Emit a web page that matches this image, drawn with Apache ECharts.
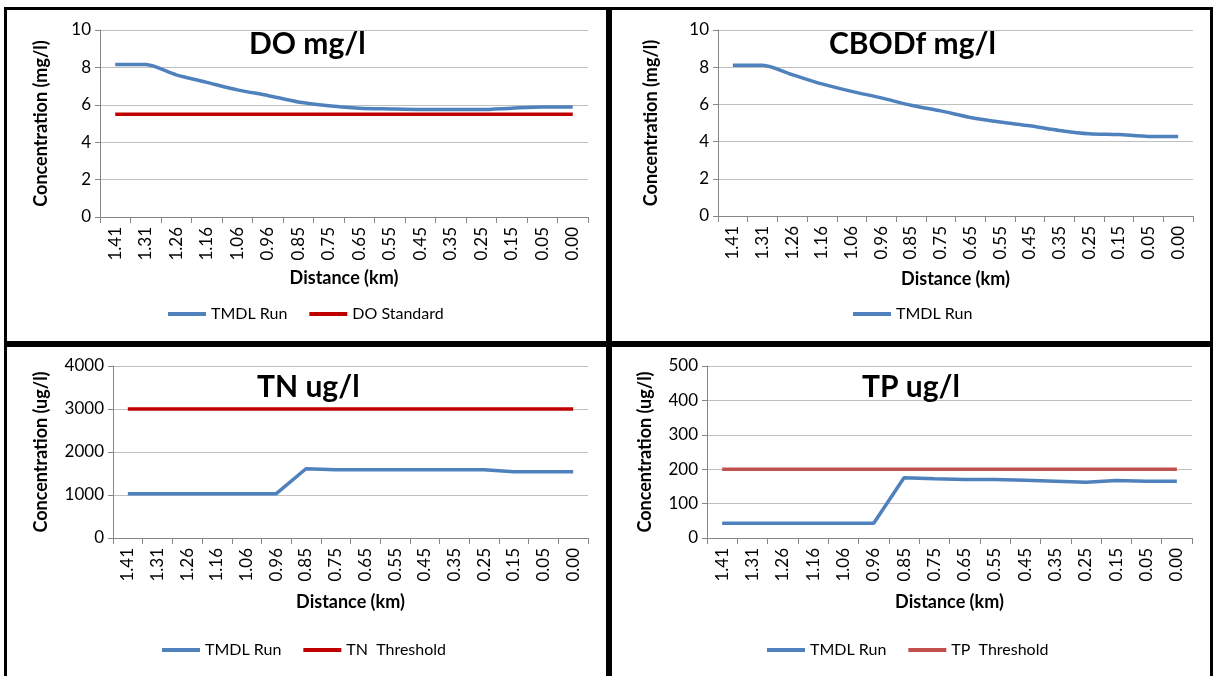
<!DOCTYPE html>
<html>
<head>
<meta charset="utf-8">
<script src="https://cdn.jsdelivr.net/npm/echarts@6/dist/echarts.min.js"></script>
<style>
  html, body { margin: 0; padding: 0; background: #fff; }
  #chart { width: 1215px; height: 676px; }
</style>
</head>
<body>
<div id="chart"></div>
<script>
// distance along the reach (km), upstream to downstream
const distance = ["1.41", "1.31", "1.26", "1.16", "1.06", "0.96", "0.85", "0.75",
  "0.65", "0.55", "0.45", "0.35", "0.25", "0.15", "0.05", "0.00"]

const doRun = [8.15, 8.15, 7.6, 7.2, 6.8, 6.5, 6.15, 5.95, 5.82, 5.78, 5.75, 5.75, 5.75, 5.82, 5.88, 5.88]
const doStandard = [5.5, 5.5, 5.5, 5.5, 5.5, 5.5, 5.5, 5.5, 5.5, 5.5, 5.5, 5.5, 5.5, 5.5, 5.5, 5.5]

const cbodRun = [8.1, 8.1, 7.6, 7.1, 6.7, 6.35, 5.95, 5.65, 5.3, 5.05, 4.85, 4.6, 4.42, 4.38, 4.28, 4.28]

const tnRun = [1030, 1030, 1030, 1030, 1030, 1030, 1610, 1590, 1590, 1590, 1590, 1590, 1590, 1540, 1540, 1540]
const tnThreshold = [3000, 3000, 3000, 3000, 3000, 3000, 3000, 3000, 3000, 3000, 3000, 3000, 3000, 3000, 3000, 3000]

const tpRun = [43, 43, 43, 43, 43, 43, 175, 172, 170, 170, 168, 165, 162, 167, 165, 165]
const tpThreshold = [200, 200, 200, 200, 200, 200, 200, 200, 200, 200, 200, 200, 200, 200, 200, 200]

const FONT = "Lato"
const BLUE = "#4f81bd"

// one panel per quadrant
const panels = [
  { title: "DO mg/l", titleX: 249, titleY: 29, yName: "Concentration (mg/l)", max: 10, interval: 2,
    grid: { left: 100, top: 30, width: 488, height: 187 }, yGap: 50, xGap: 52,
    legend: { left: 168, top: 306 },
    series: [
      { name: "TMDL Run", data: doRun, color: BLUE, smooth: true },
      { name: "DO Standard", data: doStandard, color: "#c00000" },
    ] },
  { title: "CBODf mg/l", titleX: 829, titleY: 29, yName: "Concentration (mg/l)", max: 10, interval: 2,
    grid: { left: 718, top: 30, width: 475, height: 186 }, yGap: 58, xGap: 54,
    legend: { left: 853, top: 306 },
    series: [
      { name: "TMDL Run", data: cbodRun, color: BLUE, smooth: true },
    ] },
  { title: "TN ug/l", titleX: 257, titleY: 372, yName: "Concentration (ug/l)", max: 4000, interval: 1000,
    grid: { left: 113, top: 366, width: 475, height: 172 }, yGap: 63, xGap: 55,
    legend: { left: 162, top: 642 },
    series: [
      { name: "TMDL Run", data: tnRun, color: BLUE },
      { name: "TN  Threshold", data: tnThreshold, color: "#c00000" },
    ] },
  { title: "TP ug/l", titleX: 862, titleY: 372, yName: "Concentration (ug/l)", max: 500, interval: 100,
    grid: { left: 707, top: 366, width: 485, height: 172 }, yGap: 53, xGap: 55,
    legend: { left: 767, top: 642 },
    series: [
      { name: "TMDL Run", data: tpRun, color: BLUE },
      { name: "TP  Threshold", data: tpThreshold, color: "#c0504d" },
    ] },
]

const option = {
  animation: false,
  textStyle: { fontFamily: FONT },
  title: [],
  legend: [],
  grid: [],
  xAxis: [],
  yAxis: [],
  series: [],
  graphic: [],
}

panels.forEach((p, i) => {
  option.grid.push(p.grid)
  option.title.push({
    text: p.title, left: p.titleX, top: p.titleY, padding: 0,
    textStyle: { fontFamily: FONT, fontSize: 30, fontWeight: "bold", color: "#000" },
  })
  option.legend.push({
    left: p.legend.left, top: p.legend.top, padding: 0,
    icon: "rect", itemWidth: 38, itemHeight: 4, itemGap: 22,
    data: p.series.map((s) => s.name),
    textStyle: { fontFamily: FONT, fontSize: 16, color: "#000" },
  })
  option.xAxis.push({
    type: "category", gridIndex: i, data: distance, boundaryGap: true,
    name: "Distance (km)", nameLocation: "middle", nameGap: p.xGap,
    nameTextStyle: { fontFamily: FONT, fontSize: 18, fontWeight: "bold", color: "#000" },
    axisLine: { lineStyle: { color: "#868686", width: 1 } },
    axisTick: { show: true, length: 6, lineStyle: { color: "#868686" } },
    axisLabel: { rotate: 90, margin: 10, fontSize: 17, color: "#000", fontFamily: FONT },
    splitLine: { show: false },
  })
  option.yAxis.push({
    type: "value", gridIndex: i, min: 0, max: p.max, interval: p.interval,
    name: p.yName, nameLocation: "middle", nameGap: p.yGap,
    nameTextStyle: { fontFamily: FONT, fontSize: 18, fontWeight: "bold", color: "#000" },
    axisLine: { show: true, lineStyle: { color: "#868686", width: 1 } },
    axisTick: { show: true, length: 5, lineStyle: { color: "#868686" } },
    axisLabel: { margin: 9, fontSize: 17, color: "#000", fontFamily: FONT, formatter: (v) => String(v) },
    splitLine: { show: true, lineStyle: { color: "#bfbfbf", width: 1 } },
  })
  p.series.forEach((s) => {
    option.series.push({
      type: "line", name: s.name, xAxisIndex: i, yAxisIndex: i,
      data: s.data, smooth: s.smooth ? 0.25 : false, symbol: "none",
      color: s.color,
      itemStyle: { color: s.color },
      lineStyle: { color: s.color, width: 3.5 },
    })
  })
})

// panel frames (outer border + dividers)
const frame = [
  [4, 7, 1209, 3],
  [4, 7, 3, 669],
  [1210, 7, 3, 669],
  [606, 7, 6, 669],
  [4, 341, 1209, 6],
]
frame.forEach((r) => {
  option.graphic.push({
    type: "rect", silent: true, z: 100,
    shape: { x: r[0], y: r[1], width: r[2], height: r[3] },
    style: { fill: "#000" },
  })
})

const chart = echarts.init(document.getElementById("chart"), null, { renderer: "canvas" })
chart.setOption(option)
</script>
</body>
</html>
